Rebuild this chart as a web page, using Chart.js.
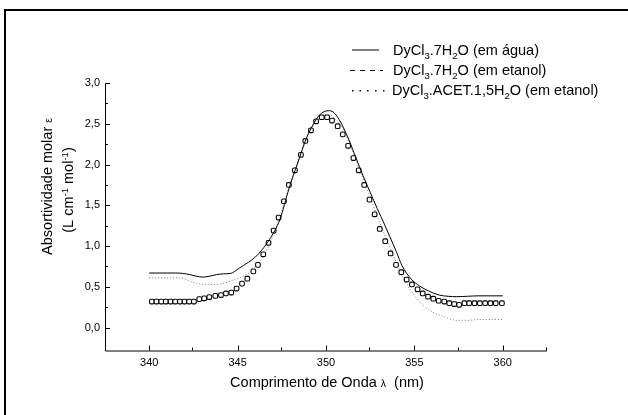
<!DOCTYPE html>
<html><head><meta charset="utf-8">
<script src="https://cdn.jsdelivr.net/npm/chart.js@4.4.1/dist/chart.umd.min.js"></script>
<style>html,body{margin:0;padding:0;background:#fff}</style>
</head><body>
<canvas id="c" width="628" height="415"></canvas>
<script>
// ---- data ----
const aguaX = [340.0, 340.5, 341.0, 341.5, 341.9, 342.3, 342.7, 343.0, 343.4, 343.8, 344.2, 344.6, 345.1, 345.6, 346.0, 346.4, 346.8, 347.4, 347.9, 348.4, 348.9, 349.3, 349.6, 349.9, 350.15, 350.4, 350.75, 351.3, 351.7, 352.1, 352.5, 352.9, 353.3, 353.6, 354.0, 354.3, 354.8, 355.3, 355.8, 356.4, 356.9, 357.4, 358.0, 358.6, 359.3, 360.0];
const aguaY = [0.67, 0.67, 0.67, 0.67, 0.665, 0.65, 0.63, 0.62, 0.63, 0.65, 0.66, 0.665, 0.73, 0.80, 0.865, 0.96, 1.08, 1.33, 1.70, 2.02, 2.33, 2.50, 2.60, 2.65, 2.66, 2.645, 2.55, 2.30, 2.08, 1.86, 1.66, 1.46, 1.27, 1.12, 0.92, 0.76, 0.60, 0.51, 0.45, 0.40, 0.385, 0.38, 0.385, 0.39, 0.39, 0.39];

const etanolX = [340.15, 340.41, 340.68, 340.94, 341.21, 341.47, 341.74, 342.0, 342.26, 342.53, 342.83, 343.11, 343.4, 343.74, 344.06, 344.34, 344.64, 344.94, 345.25, 345.55, 345.89, 346.15, 346.45, 346.75, 347.04, 347.32, 347.62, 347.9, 348.24, 348.58, 348.83, 349.15, 349.44, 349.76, 350.06, 350.34, 350.66, 350.95, 351.25, 351.55, 351.85, 352.16, 352.46, 352.75, 353.04, 353.35, 353.65, 353.96, 354.26, 354.56, 354.86, 355.18, 355.47, 355.77, 356.07, 356.37, 356.69, 356.97, 357.25, 357.53, 357.83, 358.1, 358.4, 358.7, 359.0, 359.3, 359.6, 359.95];
const etanolY = [0.32, 0.32, 0.32, 0.32, 0.32, 0.32, 0.32, 0.32, 0.32, 0.32, 0.35, 0.36, 0.375, 0.39, 0.40, 0.42, 0.43, 0.48, 0.54, 0.60, 0.69, 0.77, 0.90, 1.04, 1.19, 1.35, 1.55, 1.75, 1.93, 2.12, 2.29, 2.42, 2.53, 2.58, 2.58, 2.54, 2.47, 2.37, 2.23, 2.08, 1.93, 1.75, 1.57, 1.39, 1.21, 1.06, 0.91, 0.77, 0.68, 0.59, 0.53, 0.47, 0.42, 0.38, 0.355, 0.33, 0.32, 0.30, 0.29, 0.28, 0.30, 0.30, 0.30, 0.30, 0.30, 0.30, 0.30, 0.30];

const acetX = [340.0, 340.6, 341.2, 341.8, 342.3, 342.8, 343.3, 343.8, 344.3, 344.7, 345.1, 345.7, 346.1, 346.6, 347.0, 347.4, 347.9, 348.5, 349.0, 349.5, 349.9, 350.2, 350.5, 351.0, 351.5, 352.0, 352.5, 353.0, 353.4, 354.0, 354.5, 355.2, 355.8, 356.6, 357.4, 358.0, 358.7, 359.4, 360.0];
const acetY = [0.61, 0.61, 0.61, 0.61, 0.57, 0.54, 0.53, 0.53, 0.55, 0.58, 0.61, 0.68, 0.77, 0.93, 1.12, 1.36, 1.72, 2.08, 2.36, 2.54, 2.61, 2.61, 2.56, 2.42, 2.16, 1.88, 1.60, 1.31, 1.10, 0.79, 0.56, 0.34, 0.22, 0.14, 0.09, 0.09, 0.10, 0.10, 0.10];

const xTicks = [340, 345, 350, 355, 360];
const yTicks = [0, 0.5, 1.0, 1.5, 2.0, 2.5, 3.0];
const xMinor = [342.5, 347.5, 352.5, 357.5, 362.5];
const yMinor = [0.25, 0.75, 1.25, 1.75, 2.25, 2.75];

const FONT = '"Liberation Sans", Arial, Helvetica, sans-serif';
const pts = (xs, ys) => xs.map((x, i) => ({x, y: ys[i]}));

function rich(ctx, x, y, parts, size, measureOnly) {
  let cx = x;
  for (const p of parts) {
    const t = Array.isArray(p) ? p[0] : p;
    const kind = Array.isArray(p) ? p[1] : 'n';
    const fs = kind === 'n' ? size : (kind === 'g' ? size * 0.72 : size * 0.66);
    const dy = kind === 'sub' ? size * 0.3 : (kind === 'sup' ? -size * 0.38 : 0);
    ctx.font = fs + 'px ' + FONT;
    if (!measureOnly) ctx.fillText(t, cx, y + dy);
    cx += ctx.measureText(t).width;
  }
  return cx - x;
}

const deco = {
  id: 'deco',
  afterDraw(chart) {
    const {ctx, chartArea: a, scales: {x, y}} = chart;
    ctx.save();
    ctx.strokeStyle = '#000';
    ctx.fillStyle = '#000';
    // axes
    ctx.lineWidth = 1;
    ctx.beginPath();
    ctx.moveTo(a.left + 0.5, y.getPixelForValue(3.0));
    ctx.lineTo(a.left + 0.5, a.bottom + 0.5);
    ctx.lineTo(a.right, a.bottom + 0.5);
    ctx.stroke();
    // inward ticks
    ctx.beginPath();
    xTicks.forEach(v => { const p = Math.round(x.getPixelForValue(v)) + 0.5; ctx.moveTo(p, a.bottom); ctx.lineTo(p, a.bottom - 5); });
    xMinor.forEach(v => { const p = Math.round(x.getPixelForValue(v)) - 0.5; ctx.moveTo(p, a.bottom); ctx.lineTo(p, a.bottom - 3); });
    yTicks.forEach(v => { const p = Math.round(y.getPixelForValue(v)) + 0.5; ctx.moveTo(a.left, p); ctx.lineTo(a.left + 5, p); });
    yMinor.forEach(v => { const p = Math.round(y.getPixelForValue(v)) + 0.5; ctx.moveTo(a.left, p); ctx.lineTo(a.left + 3, p); });
    ctx.stroke();

    // frame
    ctx.lineWidth = 2;
    ctx.strokeRect(5, 10, 800, 600);

    // x title
    ctx.textBaseline = 'alphabetic';
    const xt = ['Comprimento de Onda ', ['λ', 'g'], '  (nm)'];
    const xs = 14.5;
    let w = rich(ctx, 0, 0, xt, xs, true);
    rich(ctx, 327 - w / 2, 387, xt, xs);

    // y title (rotated)
    const l1 = ['Absortividade molar ', ['ε', 'g']];
    const l2 = ['(L cm', ['-1', 'sup'], ' mol', ['-1', 'sup'], ')'];
    const ys = 14.5;
    ctx.save();
    ctx.translate(46.7, 186.5); ctx.rotate(-Math.PI / 2);
    w = rich(ctx, 0, 0, l1, ys, true);
    rich(ctx, -w / 2, 5, l1, ys);
    ctx.restore();
    ctx.save();
    ctx.translate(68.3, 190); ctx.rotate(-Math.PI / 2);
    w = rich(ctx, 0, 0, l2, ys, true);
    rich(ctx, -w / 2, 5, l2, ys);
    ctx.restore();

    // legend
    const ls = 14.5;
    const rows = [
      ['DyCl', ['3', 'sub'], '.7H', ['2', 'sub'], 'O (em água)'],
      ['DyCl', ['3', 'sub'], '.7H', ['2', 'sub'], 'O (em etanol)'],
      ['DyCl', ['3', 'sub'], '.ACET.1,5H', ['2', 'sub'], 'O (em etanol)']
    ];
    const rowY = [49.5, 70, 90];
    rows.forEach((r, i) => rich(ctx, i === 2 ? 392 : 393, rowY[i] + 5, r, ls));
    ctx.lineWidth = 1;
    ctx.beginPath(); ctx.moveTo(352, rowY[0] + 0.5); ctx.lineTo(379, rowY[0] + 0.5); ctx.stroke();
    ctx.beginPath(); ctx.setLineDash([5, 5]); ctx.moveTo(350, rowY[1] + 0.5); ctx.lineTo(383, rowY[1] + 0.5); ctx.stroke();
    ctx.setLineDash([]);
    [352, 359.5, 367, 375, 383].forEach(px => ctx.fillRect(px, rowY[2], 1.5, 1.5));
    ctx.restore();
  }
};

new Chart(document.getElementById('c'), {
  type: 'line',
  data: {
    datasets: [
      {label: 'DyCl3.7H2O (em água)', data: pts(aguaX, aguaY), borderColor: '#000', borderWidth: 1, pointRadius: 0, cubicInterpolationMode: 'monotone', fill: false},
      {label: 'DyCl3.7H2O (em etanol)', data: pts(etanolX, etanolY), showLine: false, pointStyle: 'rectRounded', pointRadius: 2.7, pointBorderWidth: 1.1, borderColor: '#000', backgroundColor: '#fff', pointBackgroundColor: '#fff', pointBorderColor: '#000'},
      {label: 'DyCl3.ACET.1,5H2O (em etanol)', data: pts(acetX, acetY), borderColor: '#777', borderWidth: 1, borderDash: [1, 2], pointRadius: 0, cubicInterpolationMode: 'monotone', fill: false}
    ]
  },
  options: {
    responsive: false,
    animation: false,
    devicePixelRatio: 1,
    layout: {padding: {left: 0, top: 83, right: 81, bottom: 0}},
    plugins: {legend: {display: false}, tooltip: {enabled: false}},
    scales: {
      x: {
        type: 'linear', min: 337.5, max: 362.5,
        afterBuildTicks: s => { s.ticks = xTicks.map(v => ({value: v})); },
        afterFit: s => { s.height = 64.5; },
        grid: {display: false, drawTicks: false},
        border: {display: false},
        ticks: {font: {size: 11, family: FONT}, color: '#000', padding: 6, maxRotation: 0, callback: v => String(v)}
      },
      y: {
        type: 'linear', min: -0.28, max: 3.0,
        afterBuildTicks: s => { s.ticks = yTicks.map(v => ({value: v})); },
        afterFit: s => { s.width = 105; },
        grid: {display: false, drawTicks: false},
        border: {display: false},
        ticks: {font: {size: 11, family: FONT}, color: '#000', padding: 5, callback: v => Number(v).toFixed(1).replace('.', ',')}
      }
    }
  },
  plugins: [deco]
});
</script>
</body></html>
